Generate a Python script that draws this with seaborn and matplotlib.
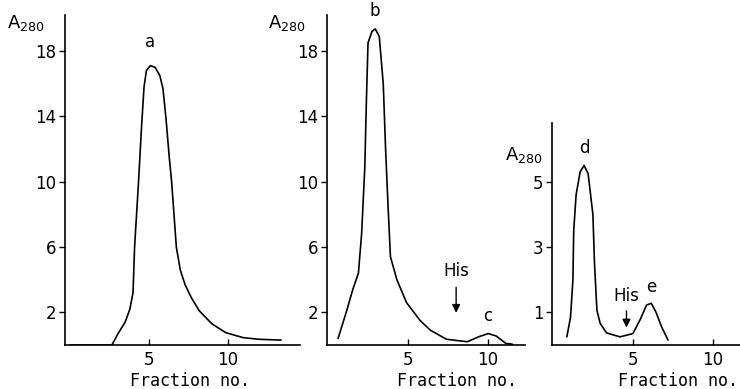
import pandas as pd
import seaborn as sb
import matplotlib.pyplot as plt

# peak a
frac_a = [0, 2.66, 3.05, 3.5, 3.8, 4.0, 4.1, 4.35, 4.55, 4.7, 4.85, 5.1, 5.4, 5.7,
          5.9, 6.1, 6.3, 6.45, 6.6, 6.75, 7.0, 7.3, 7.7, 8.2, 9.0, 9.9, 11.0, 12.0, 13.4]
abs_a = [0, 0, 0.7, 1.4, 2.2, 3.2, 6.0, 10.0, 13.5, 15.8, 16.8, 17.1, 17.0, 16.5,
         15.7, 13.8, 11.5, 10.0, 8.0, 6.0, 4.6, 3.7, 2.9, 2.1, 1.3, 0.75, 0.45, 0.35, 0.3]

# peaks b and c
frac_b = [0.63, 1.17, 1.55, 1.9, 2.1, 2.3, 2.4, 2.5, 2.75, 2.95, 3.2, 3.45, 3.6, 3.75,
          3.9, 4.3, 4.9, 5.75, 6.4, 7.4, 8.7, 9.4, 10.0, 10.5, 11.1, 11.5]
abs_b = [0.4, 2.1, 3.4, 4.4, 6.8, 10.9, 15.0, 18.5, 19.2, 19.35, 18.9, 16.0, 11.9, 8.5,
         5.4, 4.0, 2.6, 1.5, 0.9, 0.35, 0.2, 0.5, 0.7, 0.55, 0.1, 0.05]

# peaks d and e
frac_d = [0.87, 1.1, 1.25, 1.3, 1.45, 1.7, 1.95, 2.2, 2.5, 2.6, 2.75, 2.95, 3.35, 4.2,
          5.0, 5.45, 5.85, 6.15, 6.45, 6.8, 7.2]
abs_d = [0.25, 0.85, 2.0, 3.5, 4.6, 5.3, 5.5, 5.25, 4.0, 2.5, 1.07, 0.67, 0.37, 0.25,
         0.35, 0.77, 1.22, 1.28, 1.0, 0.55, 0.15]

peak_labels = {
    'a': [('a', 5.1, 18.0)],
    'b': [('b', 2.9, 19.9), ('c', 10.0, 1.2)],
    'd': [('d', 1.95, 5.75), ('e', 6.15, 1.5)],
}
his_pos = {'b': (8.0, 3.7, 1.8), 'd': (4.6, 1.13, 0.45)}

yticks = {'a': [2, 6, 10, 14, 18], 'b': [2, 6, 10, 14, 18], 'd': [1, 3, 5]}

sb.set_style('ticks')
plt.rcParams['font.family'] = ['DejaVu Sans']

fig = plt.figure(figsize=(7.4, 3.89), dpi=100)

panels = [
    ('a', frac_a, abs_a, [0.0878, 0.1131, 0.3176, 0.8483], (-0.32, 14.6), (0, 20.2), (0.53, -0.082), (-0.245, 0.975)),
    ('b', frac_b, abs_b, [0.4419, 0.1131, 0.2676, 0.8483], (-0.06, 12.3), (0, 20.2), (0.655, -0.082), (-0.30, 0.975)),
    ('d', frac_d, abs_d, [0.7459, 0.1131, 0.2541, 0.5707], (-0.06, 11.7), (0, 6.8), (0.67, -0.122), (-0.25, 0.855)),
]

for key, xs, ys, rect, xlim, ylim, xl, al in panels:
    ax = fig.add_axes(rect)
    df = pd.DataFrame({'frac': xs, 'a280': ys})
    sb.lineplot(data=df, x='frac', y='a280', ax=ax, color='black', linewidth=1.2,
                sort=False, estimator=None)
    ax.set_xlim(*xlim)
    ax.set_ylim(*ylim)
    ax.set_xticks([5, 10])
    ax.set_yticks(yticks[key])
    sb.despine(ax=ax)
    for s in ['left', 'bottom']:
        ax.spines[s].set_linewidth(1.2)
        ax.spines[s].set_color('black')
    ax.tick_params(axis='x', direction='in', length=4, width=1, labelsize=12, pad=4,
                   colors='black')
    ax.tick_params(axis='y', direction='out', length=4, width=1, labelsize=12, pad=2,
                   colors='black')
    ax.set_xlabel('Fraction no.', fontsize=12, family='DejaVu Sans Mono', color='black')
    ax.xaxis.set_label_coords(*xl)
    ax.set_ylabel('')
    ax.text(al[0], al[1], r'A$_{\mathregular{280}}$', transform=ax.transAxes,
            fontsize=13, ha='left', va='center', color='black')
    for lab, lx, ly in peak_labels[key]:
        ax.text(lx, ly, lab, fontsize=12, ha='center', va='bottom', color='black')
    if key in his_pos:
        hx, y0, y1 = his_pos[key]
        ax.annotate('', xy=(hx, y1), xytext=(hx, y0),
                    arrowprops=dict(arrowstyle='-|>', color='black', lw=1, mutation_scale=12))
        ax.text(hx, y0 + (ylim[1] * 0.015), 'His', fontsize=12, ha='center', va='bottom',
                color='black')

fig.savefig('out.png', dpi=100)
